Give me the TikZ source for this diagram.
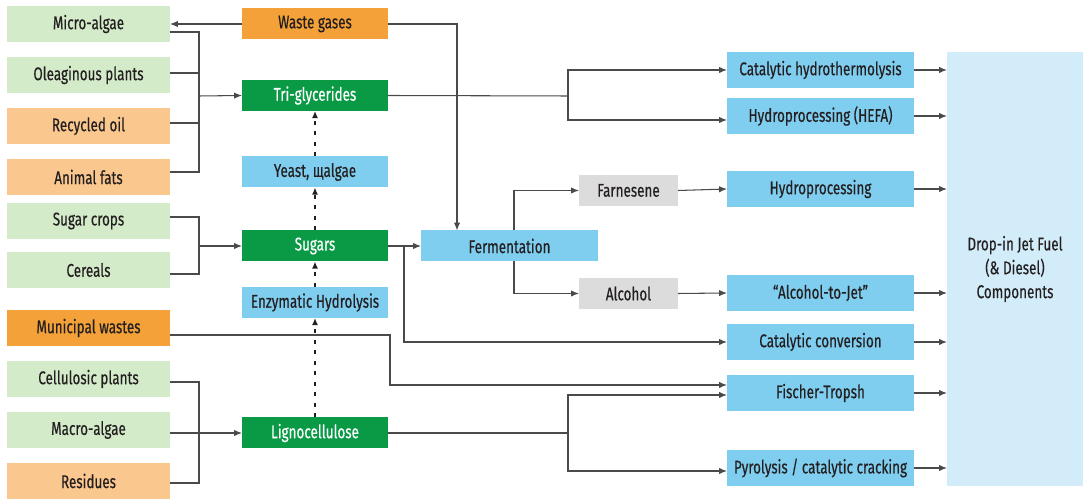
\documentclass[tikz,border=0pt]{standalone}
\usepackage{fontspec}
\setmainfont{Fira Sans}[FakeStretch=0.73,FakeBold=0.4]
\usetikzlibrary{arrows.meta,calc}
\definecolor{lgreen}{HTML}{D3EBC9}
\definecolor{lorange}{HTML}{FAC78E}
\definecolor{dorange}{HTML}{F4A13A}
\definecolor{dgreen}{HTML}{0A9A46}
\definecolor{pblue}{HTML}{7FCDEF}
\definecolor{pgrey}{HTML}{DCDCDC}
\definecolor{bigblue}{HTML}{D2ECF9}
\definecolor{ink}{HTML}{231F20}
\definecolor{wire}{HTML}{4A4A4A}
\tikzset{
  box/.style={inner sep=0pt, outer sep=0pt, text=ink, font=\fontsize{10.5}{12}\selectfont},
  leftbox/.style={box, minimum width=3.26cm, minimum height=0.72cm},
  midbox/.style={box, minimum width=2.92cm, minimum height=0.62cm},
  rightbox/.style={box, fill=pblue, minimum width=3.74cm, minimum height=0.72cm},
  smallbox/.style={box, fill=pgrey, minimum width=1.98cm, minimum height=0.62cm},
  wireline/.style={draw=wire, line width=0.6pt},
  arr/.style={wireline, -{Latex[length=4.5pt,width=3.6pt]}},
  dotarr/.style={draw=ink, line width=0.9pt, dash pattern=on 2.3pt off 3.7pt, -{Latex[length=4pt,width=3.4pt]}}
}
\begin{document}
\begin{tikzpicture}[x=0.02cm,y=-0.02cm]
\useasboundingbox (0,0) rectangle (1083,499);
% left column
\node[leftbox, fill=lgreen] (ma) at (88.5,24) {Micro-algae};
\node[leftbox, fill=lgreen] (op) at (88.5,75) {Oleaginous plants};
\node[leftbox, fill=lorange] (ro) at (88.5,126) {Recycled oil};
\node[leftbox, fill=lorange] (af) at (88.5,177) {Animal fats};
\node[leftbox, fill=lgreen] (sc) at (88.5,221) {Sugar crops};
\node[leftbox, fill=lgreen] (ce) at (88.5,270) {Cereals};
\node[leftbox, fill=dorange] (mw) at (88.5,328) {Municipal wastes};
\node[leftbox, fill=lgreen] (cp) at (88.5,379) {Cellulosic plants};
\node[leftbox, fill=lgreen] (mac) at (88.5,430) {Macro-algae};
\node[leftbox, fill=lorange] (re) at (88.5,481) {Residues};
% middle column
\node[midbox, fill=dorange] (wg) at (315,24) {Waste gases};
\node[midbox, fill=dgreen, text=white] (tg) at (315,95.5) {Tri-glycerides};
\node[midbox, fill=pblue] (ye) at (315,172) {Yeast, щalgae};
\node[midbox, fill=dgreen, text=white] (su) at (315,246) {Sugars};
\node[midbox, fill=pblue] (en) at (315,302.5) {Enzymatic Hydrolysis};
\node[midbox, fill=dgreen, text=white] (li) at (315,433) {Lignocellulose};
% fermentation branch
\node[box, fill=pblue, minimum width=3.54cm, minimum height=0.62cm] (fe) at (509.5,246) {Fermentation};
\node[smallbox] (fa) at (628.5,190.5) {Farnesene};
\node[smallbox] (al) at (628.5,293.5) {Alcohol};
% right column
\node[rightbox] (cht) at (820.5,70) {Catalytic hydrothermolysis};
\node[rightbox] (hefa) at (820.5,116) {Hydroprocessing (HEFA)};
\node[rightbox] (hp) at (820.5,189) {Hydroprocessing};
\node[rightbox] (atj) at (820.5,293) {“Alcohol-to-Jet”};
\node[rightbox] (cc) at (820.5,342) {Catalytic conversion};
\node[rightbox] (ft) at (820.5,393) {Fischer-Tropsh};
\node[rightbox] (py) at (820.5,468) {Pyrolysis / catalytic cracking};
% big box
\node[box, fill=bigblue, minimum width=2.72cm, minimum height=8.68cm, align=center,
      font=\fontsize{10.5}{13.6}\selectfont] (big) at (1015,269)
      {Drop-in Jet Fuel\\(\& Diesel)\\Components};
% junctions
\coordinate (j1) at (199,96);
\coordinate (j2) at (199,246);
\coordinate (j3) at (199,433);
\coordinate (j4) at (568,96);
\coordinate (j5) at (404,246);
\coordinate (j6) at (390,335);
\coordinate (j7) at (568,433);
% waste gases
\draw[arr] (wg.west) -- (ma.east);
\draw[arr] (wg.east) -| ($(fe.north west)+(36,0)$);
% triglyceride feeds
\draw[wireline] ($(ma.east)+(0,8)$) -| (j1);
\draw[wireline] ($(op.east)+(0,-2)$) -| (j1);
\draw[wireline] ($(ro.east)+(0,-3)$) -| (j1);
\draw[wireline] ($(af.east)+(0,-5)$) -| (j1);
\draw[arr] (j1) -- (tg.west);
% sugar feeds
\draw[wireline] ($(sc.east)+(0,-4)$) -| (j2);
\draw[wireline] ($(ce.east)+(0,4)$) -| (j2);
\draw[arr] (j2) -- (su.west);
% lignocellulose feeds
\draw[wireline] ($(cp.east)+(0,3)$) -| (j3);
\draw[wireline] ($(mac.east)+(0,3)$) -| (j3);
\draw[wireline] ($(re.east)+(0,2)$) -| (j3);
\draw[arr] (j3) -- (li.west);
% dotted chain
\draw[dotarr] (li.north) -- (en.south);
\draw[dotarr] (en.north) -- (su.south);
\draw[dotarr] (su.north) -- (ye.south);
\draw[dotarr] (ye.north) -- (tg.south);
% triglycerides
\draw[wireline] (tg.east) -- (j4);
\draw[arr] (j4) |- (cht.west);
\draw[arr] (j4) |- ($(hefa.west)+(0,4)$);
% sugars
\draw[arr] (su.east) -- (fe.west);
\draw[arr] (j5) |- (cc.west);
% fermentation
\draw[arr] ($(fe.north west)+(93,0)$) |- (fa.west);
\draw[arr] ($(fe.south west)+(93,0)$) |- (al.west);
\draw[arr] (fa.east) -- (hp.west);
\draw[arr] (al.east) -- (atj.west);
% municipal wastes
\draw[arr] ($(mw.east)+(0,7)$) -- (j6) |- ($(ft.west)+(0,-8)$);
% lignocellulose
\draw[wireline] (li.east) -- (j7);
\draw[arr] (j7) |- ($(ft.west)+(0,2)$);
\draw[arr] (j7) |- ($(py.west)+(0,3)$);
% to final
\foreach \n in {cht,hefa,hp,atj,cc,ft,py}
  \draw[arr] (\n.east) -- (\n.east -| big.west);
\end{tikzpicture}
\end{document}
